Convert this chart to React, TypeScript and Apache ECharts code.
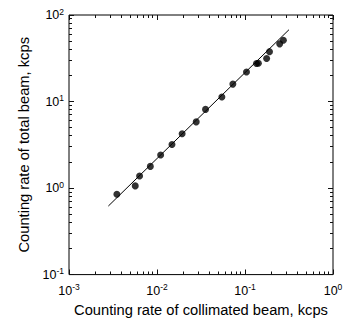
import React, { useEffect, useRef } from "react";
import * as echarts from "echarts";

// Measured data (collimated beam kcps, total beam kcps)
const collimatedRate = [0.0035, 0.00566, 0.00634, 0.0084, 0.011, 0.0148, 0.0193, 0.0279, 0.0356, 0.0546, 0.0728, 0.104, 0.135, 0.142, 0.176, 0.19, 0.248, 0.273];
const totalRate = [0.85, 1.06, 1.38, 1.78, 2.41, 3.19, 4.25, 5.82, 8.11, 11.3, 15.9, 21.9, 27.5, 27.7, 31.4, 37.7, 46.4, 51.1];

// Fit line end points
const fitX = [0.0028, 0.316];
const fitY = [0.62, 67.6];

// Axis decades
const xMajorTicks = [0.001, 0.01, 0.1, 1];
const yMajorTicks = [0.1, 1, 10, 100];
const minorMultipliers = [2, 3, 4, 5, 6, 7, 8, 9];

const X_MIN = 0.001, X_MAX = 1, Y_MIN = 0.1, Y_MAX = 100;
const MAJOR_LEN = 5, MINOR_LEN = 3;

function buildTicks(majors: number[]) {
  const out: { v: number; len: number }[] = [];
  majors.forEach((m, i) => {
    out.push({ v: m, len: MAJOR_LEN });
    if (i < majors.length - 1) minorMultipliers.forEach((k) => out.push({ v: +(m * k).toPrecision(6), len: MINOR_LEN }));
  });
  return out;
}

const FONT = "'Liberation Sans', Arial, Helvetica, sans-serif";

function labelFmt(v: number) {
  const e = Math.round(Math.log10(v));
  return `{a|10}{b|${e}}`;
}

const rich = {
  a: { fontSize: 12.5, fontFamily: FONT, color: "#000", lineHeight: 16, verticalAlign: "middle" },
  b: { fontSize: 8.5, fontFamily: FONT, color: "#000", lineHeight: 6, verticalAlign: "top" },
};

export default function App() {
  const ref = useRef<HTMLDivElement>(null);
  useEffect(() => {
    if (!ref.current) return;
    const chart = echarts.init(ref.current, null, { renderer: "svg" });
    chart.setOption({
      animation: false,
      backgroundColor: "#fff",
      grid: { left: 69, right: 14, top: 15, bottom: 42, show: true, borderColor: "#000", borderWidth: 1, backgroundColor: "transparent" },
      xAxis: {
        type: "log", logBase: 10, min: X_MIN, max: X_MAX,
        name: "Counting rate of collimated beam, kcps", nameLocation: "middle", nameGap: 26,
        nameTextStyle: { fontSize: 14.7, fontFamily: FONT, color: "#000" },
        axisLine: { show: false }, axisTick: { show: false }, splitLine: { show: false }, minorTick: { show: false },
        axisLabel: { margin: 8, formatter: labelFmt, rich },
      },
      yAxis: {
        type: "log", logBase: 10, min: Y_MIN, max: Y_MAX,
        name: "Counting rate of total beam, kcps", nameLocation: "middle", nameGap: 35,
        nameTextStyle: { fontSize: 14.7, fontFamily: FONT, color: "#000" },
        axisLine: { show: false }, axisTick: { show: false }, splitLine: { show: false }, minorTick: { show: false },
        axisLabel: { margin: 5, formatter: labelFmt, rich },
      },
      series: [
        {
          type: "line", data: fitX.map((x, i) => [x, fitY[i]]), symbol: "none",
          lineStyle: { color: "#000", width: 1 }, silent: true, z: 2,
        },
        {
          type: "scatter", data: collimatedRate.map((x, i) => [x, totalRate[i]]),
          symbol: "circle", symbolSize: 7, itemStyle: { color: "#000" }, z: 3,
        },
      ],
    });

    // Inward tick marks on all four sides, placed through the chart's own log scales
    const px = (p: number[]) => chart.convertToPixel({ gridIndex: 0 }, p) as number[];
    const fill = { fill: "#111" };
    const els: any[] = [];
    buildTicks(xMajorTicks).forEach((t) => {
      const b = px([t.v, Y_MIN]);
      const tp = px([t.v, Y_MAX]);
      const x = Math.round(b[0] - 0.5);
      els.push({ type: "rect", silent: true, z: 10, shape: { x, y: b[1] - t.len, width: 1, height: t.len }, style: fill });
      els.push({ type: "rect", silent: true, z: 10, shape: { x, y: tp[1], width: 1, height: t.len }, style: fill });
    });
    buildTicks(yMajorTicks).forEach((t) => {
      const l = px([X_MIN, t.v]);
      const r = px([X_MAX, t.v]);
      const y = Math.round(l[1] - 0.5);
      els.push({ type: "rect", silent: true, z: 10, shape: { x: l[0], y, width: t.len, height: 1 }, style: fill });
      els.push({ type: "rect", silent: true, z: 10, shape: { x: r[0] - t.len, y, width: t.len, height: 1 }, style: fill });
    });
    chart.setOption({ graphic: els });
    return () => chart.dispose();
  }, []);
  return <div ref={ref} style={{ position: "fixed", left: 0, top: 0, width: 347, height: 322, background: "#fff" }} />;
}
